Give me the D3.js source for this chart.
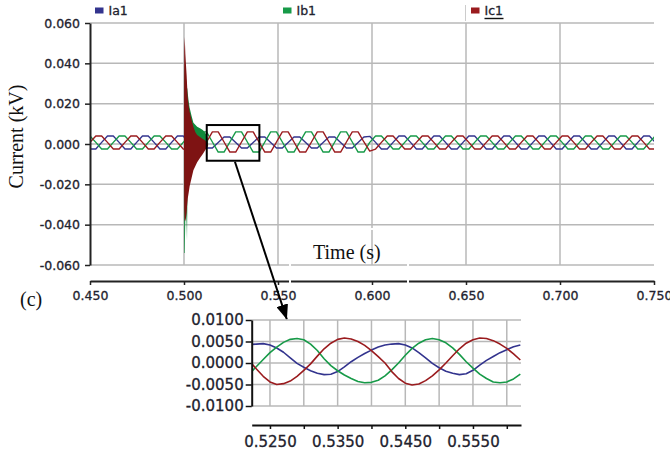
<!DOCTYPE html>
<html>
<head>
<meta charset="utf-8">
<script src="https://cdn.jsdelivr.net/npm/d3@7"></script>
<style>
  body { margin: 0; background: #fff; }
  svg { display: block; }
  .num text { font-family: "DejaVu Sans", sans-serif; fill: #22222e; stroke: #22222e; stroke-width: 0.3px; }
  .serif { font-family: "Liberation Serif", "Times New Roman", serif; fill: #111; }
</style>
</head>
<body>
<div id="chart"></div>
<script>
const W = 670, H = 454;

const seriesNames = ["Ia1", "Ib1", "Ic1"];
const seriesColors = ["#33348e", "#179a48", "#9a1b1e"];
const fillColors = { Ib1: "#108a3b", Ic1: "#7e1313" };

const mainYTicks = [0.06, 0.04, 0.02, 0, -0.02, -0.04, -0.06];
const mainXTicks = [0.45, 0.50, 0.55, 0.60, 0.65, 0.70, 0.75];
const insetYTicks = [0.01, 0.005, 0, -0.005, -0.01];
const insetXTicks = [0.525, 0.530, 0.535, 0.540, 0.545, 0.550, 0.555, 0.560];
const insetXLabels = [0.525, 0.535, 0.545, 0.555];

// main plot samples: 0.450 s onwards, one every 3.1 ms (kV)
const mainT0 = 0.45, mainDt = 0.0031;
const ia1 = [
  -0.0025, -0.0025, 0.0008, 0.0040, 0.0040, 0.0008, -0.0025, -0.0025, 0.0008, 0.0040,
  0.0040, 0.0008, -0.0025, -0.0025, 0.0008, 0.0040, 0.0040, 0.0005, -0.0018, -0.0020,
  -0.0020, -0.0020, 0.0007, 0.0035, 0.0035, 0.0007, -0.0020, -0.0020, 0.0007, 0.0035,
  0.0035, 0.0007, -0.0020, -0.0020, 0.0007, 0.0035, 0.0035, 0.0007, -0.0020, -0.0020,
  0.0007, 0.0035, 0.0035, 0.0007, -0.0020, -0.0020, 0.0007, 0.0035, 0.0038, 0.0008,
  -0.0025, -0.0025, 0.0008, 0.0040, 0.0040, 0.0008, -0.0025, -0.0025, 0.0008, 0.0040,
  0.0040, 0.0008, -0.0025, -0.0025, 0.0008, 0.0040, 0.0040, 0.0008, -0.0025, -0.0025,
  0.0008, 0.0040, 0.0040, 0.0008, -0.0025, -0.0025, 0.0008, 0.0040, 0.0040, 0.0008,
  -0.0025, -0.0025, 0.0008, 0.0040, 0.0040, 0.0008, -0.0025, -0.0025, 0.0008, 0.0040,
  0.0040, 0.0008, -0.0025, -0.0025, 0.0008, 0.0040, 0.0040, 0.0008
];
const ib1 = [
  0.0040, 0.0008, -0.0025, -0.0025, 0.0008, 0.0040, 0.0040, 0.0008, -0.0025, -0.0025,
  0.0008, 0.0040, 0.0040, 0.0008, -0.0025, -0.0025, 0.0008, 0.0040, 0.0055, 0.0060,
  0.0060, 0.0010, -0.0040, -0.0040, 0.0010, 0.0060, 0.0060, 0.0010, -0.0040, -0.0040,
  0.0010, 0.0060, 0.0060, 0.0010, -0.0040, -0.0040, 0.0010, 0.0060, 0.0060, 0.0010,
  -0.0040, -0.0040, 0.0010, 0.0060, 0.0060, 0.0010, -0.0040, -0.0040, 0.0008, 0.0040,
  0.0040, 0.0008, -0.0025, -0.0025, 0.0008, 0.0040, 0.0040, 0.0008, -0.0025, -0.0025,
  0.0008, 0.0040, 0.0040, 0.0008, -0.0025, -0.0025, 0.0008, 0.0040, 0.0040, 0.0008,
  -0.0025, -0.0025, 0.0008, 0.0040, 0.0040, 0.0008, -0.0025, -0.0025, 0.0008, 0.0040,
  0.0040, 0.0008, -0.0025, -0.0025, 0.0008, 0.0040, 0.0040, 0.0008, -0.0025, -0.0025,
  0.0008, 0.0040, 0.0040, 0.0008, -0.0025, -0.0025, 0.0008, 0.0040
];
const ic1 = [
  0.0008, 0.0040, 0.0040, 0.0008, -0.0025, -0.0025, 0.0008, 0.0040, 0.0040, 0.0008,
  -0.0025, -0.0025, 0.0008, 0.0040, 0.0040, 0.0008, -0.0025, -0.0030, -0.0040, -0.0040,
  0.0010, 0.0060, 0.0060, 0.0010, -0.0040, -0.0040, 0.0010, 0.0060, 0.0060, 0.0010,
  -0.0040, -0.0040, 0.0010, 0.0060, 0.0060, 0.0010, -0.0040, -0.0040, 0.0010, 0.0060,
  0.0060, 0.0010, -0.0040, -0.0040, 0.0010, 0.0060, 0.0060, 0.0010, -0.0035, -0.0025,
  0.0008, 0.0040, 0.0040, 0.0008, -0.0025, -0.0025, 0.0008, 0.0040, 0.0040, 0.0008,
  -0.0025, -0.0025, 0.0008, 0.0040, 0.0040, 0.0008, -0.0025, -0.0025, 0.0008, 0.0040,
  0.0040, 0.0008, -0.0025, -0.0025, 0.0008, 0.0040, 0.0040, 0.0008, -0.0025, -0.0025,
  0.0008, 0.0040, 0.0040, 0.0008, -0.0025, -0.0025, 0.0008, 0.0040, 0.0040, 0.0008,
  -0.0025, -0.0025, 0.0008, 0.0040, 0.0040, 0.0008, -0.0025, -0.0025
];

// fault transient at 0.500 s: envelope of the fast oscillation (kV)
const transT  = [0.5000, 0.5001, 0.5004, 0.5007, 0.5010, 0.5014, 0.5016, 0.5018, 0.5020, 0.5025, 0.5030,
                 0.5035, 0.5040, 0.5050, 0.5060, 0.5070, 0.5085, 0.5100, 0.5110, 0.5120, 0.5128];
const ic1TransHi = [0.000, 0.046, 0.053, 0.045, 0.040, 0.034, 0.030, 0.026, 0.023, 0.019, 0.016,
                    0.014, 0.012, 0.0085, 0.006, 0.0045, 0.0035, 0.0025, 0.002, 0.001, 0.000];
const ic1TransLo = [0.000, -0.032, -0.038, -0.038, -0.037, -0.034, -0.031, -0.029, -0.027, -0.024, -0.021,
                    -0.019, -0.017, -0.013, -0.011, -0.009, -0.007, -0.005, -0.0035, -0.002, -0.001];
const ib1TransHi = [0.000, 0.030, 0.040, 0.036, 0.033, 0.030, 0.028, 0.027, 0.025, 0.021, 0.018,
                    0.016, 0.014, 0.0105, 0.0095, 0.0085, 0.0078, 0.007, 0.006, 0.0045, 0.002];
const ib1TransLo = [0.000, -0.054, -0.054, -0.036, -0.030, -0.040, -0.048, -0.026, -0.020, -0.015, -0.010,
                    -0.008, -0.006, -0.004, -0.003, -0.002, -0.0015, -0.001, -0.0005, 0.000, 0.000];

// zoomed window
const zoomBox = { t0: 0.5121, t1: 0.5401, vTop: 0.0094, vBottom: -0.0083 };
const insetT0 = 0.522, insetDt = 0.001;
const ia1Zoom = [
  0.0043, 0.0044, 0.0045, 0.0042, 0.0035, 0.0025, 0.0012, -0.0001, -0.0010, -0.0018,
  -0.0024, -0.0027, -0.0026, -0.0020, -0.0009, 0.0003, 0.0013, 0.0022, 0.0030, 0.0037,
  0.0042, 0.0044, 0.0045, 0.0042, 0.0035, 0.0024, 0.0012, -0.0001, -0.0011, -0.0019,
  -0.0024, -0.0027, -0.0025, -0.0017, -0.0005, 0.0006, 0.0015, 0.0024, 0.0031, 0.0038,
  0.0042
];
const ib1Zoom = [
  -0.0025, -0.0008, 0.0008, 0.0024, 0.0037, 0.0048, 0.0055, 0.0057, 0.0054, 0.0044,
  0.0029, 0.0010, -0.0006, -0.0018, -0.0028, -0.0036, -0.0043, -0.0046, -0.0045, -0.0040,
  -0.0030, -0.0016, 0.0000, 0.0018, 0.0034, 0.0046, 0.0054, 0.0057, 0.0054, 0.0047,
  0.0035, 0.0020, 0.0003, -0.0012, -0.0026, -0.0036, -0.0044, -0.0046, -0.0044, -0.0037,
  -0.0026
];
const ic1Zoom = [
  0.0004, -0.0014, -0.0031, -0.0044, -0.0050, -0.0048, -0.0042, -0.0031, -0.0017, -0.0002,
  0.0016, 0.0033, 0.0046, 0.0055, 0.0058, 0.0056, 0.0050, 0.0041, 0.0029, 0.0015,
  0.0000, -0.0020, -0.0036, -0.0047, -0.0051, -0.0049, -0.0041, -0.0030, -0.0016, 0.0000,
  0.0017, 0.0033, 0.0046, 0.0054, 0.0058, 0.0057, 0.0052, 0.0044, 0.0034, 0.0021,
  0.0007
];

const GRID = "#b8b8b8";

const svg = d3.select("#chart").append("svg")
  .attr("width", W).attr("height", H)
  .attr("viewBox", `0 0 ${W} ${H}`);

const defs = svg.append("defs");
defs.append("clipPath").attr("id", "mainClip")
  .append("rect").attr("x", 90).attr("y", 0).attr("width", 564).attr("height", 300);
defs.append("clipPath").attr("id", "insetClip")
  .append("rect").attr("x", 252).attr("y", 300).attr("width", 269).attr("height", 130);
defs.append("marker").attr("id", "arrowHead")
  .attr("viewBox", "0 0 15 12").attr("refX", 15).attr("refY", 6)
  .attr("markerWidth", 15).attr("markerHeight", 12)
  .attr("markerUnits", "userSpaceOnUse").attr("orient", "auto")
  .append("path").attr("d", "M0,0L15,6L0,12z").attr("fill", "#000");

// ---------- main plot ----------
const x = d3.scaleLinear().domain([0.45, 0.75]).range([90, 654]);
const y = d3.scaleLinear().domain([-0.06, 0.06]).range([265, 23]);

const grid = svg.append("g").attr("stroke", GRID).attr("stroke-width", 1.5);
grid.selectAll("line.h").data(mainYTicks).join("line")
  .attr("x1", x(0.45)).attr("x2", x(0.75))
  .attr("y1", d => y(d)).attr("y2", d => y(d));
grid.selectAll("line.v").data(mainXTicks.slice(1, -1)).join("line")
  .attr("x1", d => x(d)).attr("x2", d => x(d))
  .attr("y1", y(0.06)).attr("y2", y(-0.06));

const mainSeries = [ia1, ib1, ic1];
const mainLine = d3.line()
  .x((d, i) => x(mainT0 + i * mainDt))
  .y(d => y(d));
const waves = svg.append("g").attr("clip-path", "url(#mainClip)");
mainSeries.forEach((vals, s) => {
  waves.append("path").datum(vals)
    .attr("fill", "none").attr("stroke", seriesColors[s]).attr("stroke-width", 1.4)
    .attr("stroke-linejoin", "round")
    .attr("d", mainLine);
});

const transArea = (hi, lo) => d3.area()
  .x((d, i) => x(transT[i]))
  .y0((d, i) => y(lo[i]))
  .y1((d, i) => y(hi[i]))(transT);
waves.append("path").attr("fill", fillColors.Ib1).attr("d", transArea(ib1TransHi, ib1TransLo));
waves.append("path").attr("fill", fillColors.Ic1).attr("d", transArea(ic1TransHi, ic1TransLo));

const yAxis = svg.append("g").attr("class", "num")
  .attr("transform", `translate(${x(0.45)},0)`)
  .call(d3.axisLeft(y).tickValues(mainYTicks).tickFormat(d => d.toFixed(3))
    .tickSize(5).tickSizeOuter(0).tickPadding(5));
const xAxis = svg.append("g").attr("class", "num")
  .attr("transform", "translate(0,281)")
  .call(d3.axisBottom(x).tickValues(mainXTicks).tickFormat(d => d.toFixed(3))
    .tickSize(4).tickSizeOuter(0).tickPadding(6));
[yAxis, xAxis].forEach(a => {
  a.select(".domain").attr("stroke", "#222").attr("stroke-width", 2);
  a.selectAll(".tick line").attr("stroke", "#222").attr("stroke-width", 1.5);
  a.selectAll("text").attr("font-size", 12.5);
});

// white frame of the axis title box
svg.append("rect").attr("x", 290).attr("y", 229).attr("width", 118).attr("height", 58)
  .attr("fill", "none").attr("stroke", "#fff").attr("stroke-width", 2);
svg.append("text").attr("class", "serif").attr("x", 313).attr("y", 258.5)
  .attr("font-size", 20).text("Time (s)");
svg.append("text").attr("class", "serif")
  .attr("transform", "translate(23,136.5) rotate(-90)")
  .attr("text-anchor", "middle").attr("font-size", 20).text("Current (kV)");
svg.append("text").attr("class", "serif").attr("x", 20).attr("y", 305.5)
  .attr("font-size", 20).text("(c)");

// legend
const legendX = [95, 283, 471];
const legend = svg.append("g").attr("class", "num");
seriesNames.forEach((name, s) => {
  legend.append("rect").attr("x", legendX[s]).attr("y", 7.5)
    .attr("width", 8.5).attr("height", 6).attr("fill", seriesColors[s]);
  legend.append("text").attr("x", legendX[s] + 13.5).attr("y", 15)
    .attr("font-size", 12.5).text(name);
});
legend.append("line").attr("x1", 484.5).attr("x2", 503.5).attr("y1", 18.5).attr("y2", 18.5)
  .attr("stroke", "#111").attr("stroke-width", 1.4);
legend.append("line").attr("x1", 465.5).attr("x2", 465.5).attr("y1", 5).attr("y2", 21)
  .attr("stroke", "#ccc").attr("stroke-width", 1);

// zoom box and arrow
const xi = d3.scaleLinear().domain([0.5223, 0.5621]).range([251.7, 521]);
const yi = d3.scaleLinear().domain([-0.01, 0.01]).range([406, 320]);

svg.append("rect")
  .attr("x", x(zoomBox.t0)).attr("y", y(zoomBox.vTop))
  .attr("width", x(zoomBox.t1) - x(zoomBox.t0))
  .attr("height", y(zoomBox.vBottom) - y(zoomBox.vTop))
  .attr("fill", "none").attr("stroke", "#000").attr("stroke-width", 2);
svg.append("line")
  .attr("x1", x(0.5271)).attr("y1", y(zoomBox.vBottom) + 1)
  .attr("x2", xi(0.5275)).attr("y2", yi(0.01) - 0.5)
  .attr("stroke", "#000").attr("stroke-width", 2)
  .attr("marker-end", "url(#arrowHead)");

// ---------- inset ----------
const igrid = svg.append("g").attr("stroke", GRID).attr("stroke-width", 1.5);
igrid.selectAll("line.h").data(insetYTicks).join("line")
  .attr("x1", xi.range()[0]).attr("x2", xi.range()[1])
  .attr("y1", d => yi(d)).attr("y2", d => yi(d));
igrid.selectAll("line.v").data(insetXTicks).join("line")
  .attr("x1", d => xi(d)).attr("x2", d => xi(d))
  .attr("y1", yi(0.01)).attr("y2", yi(-0.01));

const insetLine = d3.line()
  .x((d, i) => xi(insetT0 + i * insetDt))
  .y(d => yi(d));
const iwaves = svg.append("g").attr("clip-path", "url(#insetClip)");
[ia1Zoom, ib1Zoom, ic1Zoom].forEach((vals, s) => {
  iwaves.append("path").datum(vals)
    .attr("fill", "none").attr("stroke", seriesColors[s]).attr("stroke-width", 1.6)
    .attr("stroke-linejoin", "round")
    .attr("d", insetLine);
});

const iyAxis = svg.append("g").attr("class", "num")
  .attr("transform", `translate(${xi.range()[0]},0)`)
  .call(d3.axisLeft(yi).tickValues(insetYTicks).tickFormat(d => d.toFixed(4))
    .tickSize(6).tickSizeOuter(0).tickPadding(2));
const ixAxis = svg.append("g").attr("class", "num")
  .attr("transform", "translate(0,425)")
  .call(d3.axisBottom(xi).tickValues(insetXTicks)
    .tickFormat(d => insetXLabels.some(v => Math.abs(v - d) < 1e-9) ? d.toFixed(4) : "")
    .tickSize(4).tickSizeOuter(0).tickPadding(7));
[iyAxis, ixAxis].forEach(a => {
  a.select(".domain").attr("stroke", "#111").attr("stroke-width", 2);
  a.selectAll(".tick line").attr("stroke", "#111").attr("stroke-width", 1.5);
  a.selectAll("text").attr("font-size", 15);
});
</script>
</body>
</html>
